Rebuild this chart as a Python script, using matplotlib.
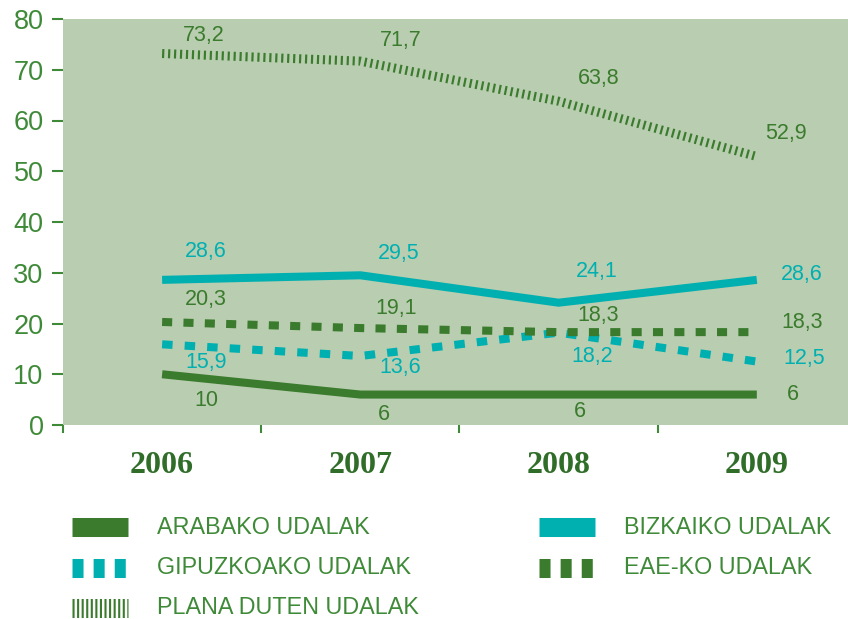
import matplotlib
matplotlib.use("Agg")
from matplotlib import pyplot as plt
from matplotlib.lines import Line2D

years = ["2006", "2007", "2008", "2009"]
names = ["ARABAKO UDALAK", "BIZKAIKO UDALAK", "GIPUZKOAKO UDALAK",
         "EAE-KO UDALAK", "PLANA DUTEN UDALAK"]
arabako = [10, 6, 6, 6]
bizkaiko = [28.6, 29.5, 24.1, 28.6]
gipuzkoako = [15.9, 13.6, 18.2, 12.5]
eae = [20.3, 19.1, 18.3, 18.3]
plana = [73.2, 71.7, 63.8, 52.9]
y_ticks = [0, 10, 20, 30, 40, 50, 60, 70, 80]

GREEN = "#3a7b2d"
TEAL = "#00b0b0"
BG = "#b9cdb0"
TXT = "#3f8a38"

# (linea, kolorea, dashes, etiketen desplazamenduak pixeletan)
series = [
    (arabako, GREEN, None, [(44, -26), (24, -20), (21, -17), (36, 0)]),
    (bizkaiko, TEAL, None, [(44, 28), (38, 22), (38, 31), (45, 5)]),
    (gipuzkoako, TEAL, (1.3, 1.5), [(44, -18), (40, -12), (34, -24), (47, 3)]),
    (eae, GREEN, (1.25, 1.4), [(44, 22), (36, 20), (40, 17), (45, 10)]),
    (plana, GREEN, (0.24, 0.42), [(42, 18), (40, 21), (40, 23), (29, 23)]),
]

fig = plt.figure(figsize=(8.48, 6.19), dpi=100)
ax = fig.add_axes([63 / 848, 1 - 425 / 619, 1 - 63 / 848, (425 - 19) / 619])
ax.set_facecolor(BG)
for s in ax.spines.values():
    s.set_visible(False)

x = list(range(len(years)))
for vals, col, dash, offs in series:
    lw = 6.5 if dash == (0.24, 0.42) else 5.8
    ln, = ax.plot(x, vals, color=col, lw=lw, solid_capstyle="butt",
                  dash_capstyle="butt", solid_joinstyle="miter")
    if dash:
        ln.set_dashes(dash)
    for xi, v, (dx, dy) in zip(x, vals, offs):
        ax.annotate(f"{v:g}".replace(".", ","), (xi, v), xytext=(dx, dy),
                    textcoords="offset pixels", ha="center", va="center",
                    fontsize=15.5, color=col, family="Liberation Sans")

ax.set_xlim(-0.5, 3.46)
ax.set_ylim(0, 80)
ax.set_yticks(y_ticks)
ax.set_yticklabels([str(t) for t in y_ticks], fontsize=19.5, color=TXT,
                   family="Liberation Sans")
ax.tick_params(axis="y", length=8, width=1.5, color=TXT, pad=6)

ax.set_xticks([-0.5, 0.5, 1.5, 2.5])
ax.set_xticklabels([])
ax.tick_params(axis="x", which="major", length=6, width=1.5, color=TXT)
ax.set_xticks(x, minor=True)
ax.set_xticklabels(years, minor=True, fontsize=23, fontweight="bold",
                   color="#2f6d28", family="Liberation Serif")
ax.tick_params(axis="x", which="minor", length=0, pad=19)

# legenda
leg_pos = [(72, 527), (539, 527), (72, 568), (539, 568), (72, 608)]
for (vals, col, dash, offs), name, (px, py) in zip(series, names, leg_pos):
    if dash == (0.24, 0.42):
        ld = (0.11, 0.13)
    elif dash:
        ld = (0.58, 0.53)
    else:
        ld = None
    h = Line2D([px / 848, (px + 56) / 848], [1 - py / 619] * 2,
               transform=fig.transFigure, color=col, lw=13.7,
               solid_capstyle="butt", dash_capstyle="butt")
    if ld:
        h.set_dashes(ld)
    fig.add_artist(h)
    fig.text((px + 85) / 848, 1 - py / 619, name, fontsize=16.8, color=TXT,
             va="center", ha="left", family="Liberation Sans")

fig.savefig("out.png", dpi=100)
